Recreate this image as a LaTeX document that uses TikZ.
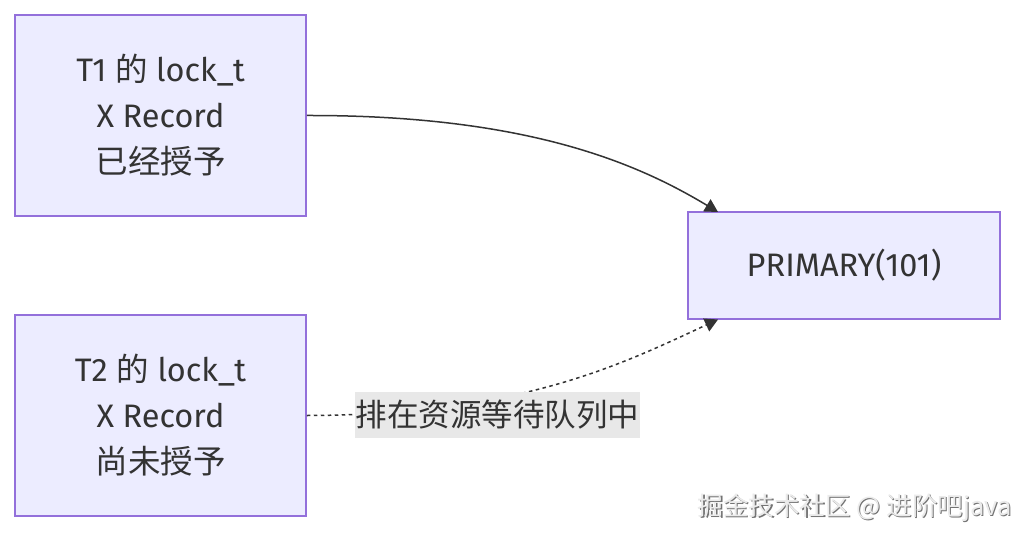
\documentclass[tikz,border=0pt]{standalone}
\usepackage{fontspec}
\setmainfont{Fira Sans}
\newfontfamily\cjk{Noto Sans CJK SC}
\usetikzlibrary{arrows.meta}
\definecolor{nodefill}{HTML}{ECECFF}
\definecolor{nodeline}{HTML}{9370DB}
\definecolor{edgecol}{HTML}{333333}
\definecolor{lblbg}{HTML}{E8E8E8}
\tikzset{
  box/.style={draw=nodeline, fill=nodefill, line width=1.5pt, minimum width=291pt, minimum height=201pt, align=center, text=edgecol, font=\fontsize{32.5}{46}\selectfont, inner sep=0pt},
  pbox/.style={box, minimum width=312pt, minimum height=107pt},
  edge/.style={draw=edgecol, line width=1.5pt, -{Triangle[length=13pt,width=14pt]}},
  dedge/.style={edge, dash pattern=on 3.5pt off 3.5pt},
  lbl/.style={fill=lblbg, text=edgecol, font=\fontsize{31.5}{34}\selectfont\cjk, inner sep=1pt, minimum height=46pt, minimum width=285pt},
}
\begin{document}
\begin{tikzpicture}[x=1pt,y=-1pt]
\useasboundingbox[fill=white] (0,0) rectangle (1032,540);
\node[box] (t1) at (160.5,115.5) {T1 {\cjk 的} lock\_t\\X Record\\{\cjk 已经授予}};
\node[box] (t2) at (160.5,415.5) {T2 {\cjk 的} lock\_t\\X Record\\{\cjk 尚未授予}};
\node[pbox] (p) at (844,265.5) {PRIMARY(101)};
\coordinate (p1) at (718,212);
\coordinate (p2) at (718,319.5);
\draw[edge] (t1.east) .. controls (530,115) and (640,165) .. (p1);
\draw[dedge] (t2.east) .. controls (520,415) and (620,365) .. (p2);
\node[lbl] (l) at (497.5,415) {排在资源等待队列中};
\node[font=\fontsize{25.5}{28}\selectfont\cjk, text=black!55, anchor=east] (w0) at (1016.2,509.2) {掘金技术社区 @ 进阶吧java};
\node[font=\fontsize{25.5}{28}\selectfont\cjk, text=black!8, anchor=east] (w) at (1015,508) {掘金技术社区 @ 进阶吧java};
\end{tikzpicture}
\end{document}
